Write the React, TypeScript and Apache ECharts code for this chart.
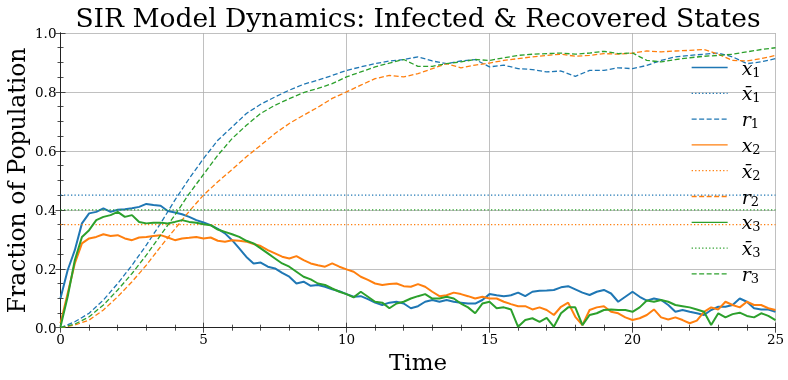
import React, { useEffect, useRef } from "react";
import * as echarts from "echarts";

// time grid for stochastic infected-fraction curves (step 0.25)
const tX = [
  0, 0.25, 0.5, 0.75, 1, 1.25, 1.5, 1.75, 2, 2.25, 2.5, 2.75, 3, 3.25, 3.5, 3.75, 4, 4.25, 4.5, 4.75,
  5, 5.25, 5.5, 5.75, 6, 6.25, 6.5, 6.75, 7, 7.25, 7.5, 7.75, 8, 8.25, 8.5, 8.75, 9, 9.25, 9.5, 9.75,
  10, 10.25, 10.5, 10.75, 11, 11.25, 11.5, 11.75, 12, 12.25, 12.5, 12.75, 13, 13.25, 13.5, 13.75,
  14, 14.25, 14.5, 14.75, 15, 15.25, 15.5, 15.75, 16, 16.25, 16.5, 16.75, 17, 17.25, 17.5, 17.75,
  18, 18.25, 18.5, 18.75, 19, 19.25, 19.5, 19.75, 20, 20.25, 20.5, 20.75, 21, 21.25, 21.5, 21.75,
  22, 22.25, 22.5, 22.75, 23, 23.25, 23.5, 23.75, 24, 24.25, 24.5, 24.75, 25,
];

const x1 = [
  0.1, 0.195, 0.263, 0.354, 0.388, 0.393, 0.405, 0.393, 0.4, 0.402, 0.405, 0.41, 0.42, 0.416, 0.414, 0.396, 0.391, 0.385, 0.376, 0.365,
  0.357, 0.348, 0.335, 0.32, 0.297, 0.269, 0.24, 0.218, 0.221, 0.207, 0.201, 0.186, 0.173, 0.15, 0.156, 0.142, 0.145, 0.139, 0.13, 0.124,
  0.114, 0.105, 0.107, 0.097, 0.085, 0.077, 0.085, 0.088, 0.082, 0.066, 0.073, 0.088, 0.094, 0.088, 0.094, 0.088,
  0.085, 0.082, 0.082, 0.094, 0.114, 0.11, 0.107, 0.11, 0.119, 0.107, 0.122, 0.125, 0.126, 0.128, 0.137, 0.141,
  0.13, 0.119, 0.111, 0.122, 0.128, 0.116, 0.088, 0.105, 0.122, 0.105, 0.092, 0.099, 0.094, 0.077, 0.054, 0.06,
  0.054, 0.049, 0.043, 0.06, 0.071, 0.071, 0.077, 0.099, 0.088, 0.066, 0.062, 0.062, 0.054,
];

const x2 = [
  0.015, 0.116, 0.218, 0.286, 0.303, 0.308, 0.317, 0.311, 0.314, 0.303, 0.297, 0.306, 0.308, 0.311, 0.314, 0.306, 0.297, 0.303, 0.305, 0.308,
  0.303, 0.306, 0.295, 0.292, 0.297, 0.295, 0.292, 0.284, 0.277, 0.263, 0.252, 0.241, 0.235, 0.243, 0.229, 0.218, 0.212, 0.207, 0.218, 0.207,
  0.198, 0.19, 0.173, 0.162, 0.15, 0.145, 0.148, 0.15, 0.141, 0.139, 0.148, 0.139, 0.122, 0.107, 0.11, 0.119,
  0.114, 0.107, 0.099, 0.105, 0.099, 0.099, 0.088, 0.08, 0.073, 0.073, 0.062, 0.069, 0.06, 0.043, 0.071, 0.085,
  0.037, 0.009, 0.06, 0.069, 0.073, 0.054, 0.049, 0.035, 0.026, 0.032, 0.043, 0.062, 0.035, 0.028, 0.035, 0.026,
  0.015, 0.024, 0.054, 0.069, 0.062, 0.088, 0.077, 0.069, 0.088, 0.077, 0.077, 0.066, 0.06,
];

const x3 = [
  0.003, 0.105, 0.229, 0.308, 0.331, 0.365, 0.376, 0.382, 0.393, 0.376, 0.382, 0.359, 0.354, 0.356, 0.356, 0.354, 0.359, 0.365, 0.359, 0.356,
  0.351, 0.348, 0.333, 0.325, 0.317, 0.308, 0.295, 0.286, 0.269, 0.252, 0.235, 0.218, 0.207, 0.19, 0.173, 0.164, 0.15, 0.145, 0.133, 0.122,
  0.114, 0.103, 0.122, 0.105, 0.088, 0.085, 0.066, 0.082, 0.088, 0.099, 0.107, 0.114, 0.099, 0.099, 0.105, 0.099,
  0.082, 0.069, 0.049, 0.082, 0.088, 0.066, 0.069, 0.062, 0.003, 0.026, 0.032, 0.02, 0.033, 0.003, 0.049, 0.069,
  0.069, 0.009, 0.043, 0.049, 0.06, 0.062, 0.06, 0.06, 0.054, 0.069, 0.092, 0.088, 0.094, 0.088, 0.077, 0.073,
  0.069, 0.062, 0.054, 0.009, 0.049, 0.035, 0.046, 0.051, 0.04, 0.035, 0.049, 0.04, 0.026,
];

// equilibrium levels
const xBar = [0.45, 0.35, 0.4];

// time grid for recovered-fraction curves (step 0.5)
const tR = [
  0, 0.5, 1, 1.5, 2, 2.5, 3, 3.5, 4, 4.5, 5, 5.5, 6, 6.5, 7, 7.5, 8, 8.5, 9, 9.5, 10, 10.5, 11, 11.5, 12,
  12.5, 13, 13.5, 14, 14.5, 15, 15.5, 16, 16.5, 17, 17.5, 18, 18.5, 19, 19.5, 20, 20.5, 21, 21.5, 22, 22.5,
  23, 23.5, 24, 24.5, 25,
];

const r1 = [
  0, 0.02, 0.049, 0.094, 0.15, 0.212, 0.28, 0.354, 0.433, 0.506, 0.574, 0.636, 0.681, 0.727, 0.758, 0.783, 0.806, 0.826, 0.84, 0.856,
  0.873, 0.885, 0.896, 0.905, 0.91, 0.919, 0.905, 0.896, 0.905, 0.91, 0.885, 0.891, 0.879, 0.876, 0.868, 0.871, 0.853, 0.873, 0.873,
  0.882, 0.879, 0.89, 0.907, 0.919, 0.924, 0.928, 0.932, 0.919, 0.896, 0.902, 0.913,
];

const r2 = [
  0, 0.009, 0.026, 0.06, 0.105, 0.156, 0.212, 0.275, 0.335, 0.395, 0.45, 0.495, 0.537, 0.58, 0.619, 0.659, 0.693, 0.721, 0.748, 0.778,
  0.8, 0.823, 0.845, 0.856, 0.851, 0.862, 0.879, 0.896, 0.882, 0.891, 0.898, 0.907, 0.913, 0.919, 0.924, 0.928, 0.921, 0.924, 0.93,
  0.928, 0.932, 0.939, 0.936, 0.939, 0.941, 0.944, 0.928, 0.907, 0.905, 0.913, 0.924,
];

const r3 = [
  0, 0.012, 0.037, 0.077, 0.128, 0.184, 0.246, 0.314, 0.382, 0.455, 0.52, 0.585, 0.642, 0.687, 0.727, 0.755, 0.777, 0.798, 0.812, 0.828,
  0.851, 0.868, 0.885, 0.898, 0.91, 0.887, 0.887, 0.896, 0.902, 0.91, 0.907, 0.916, 0.924, 0.928, 0.93, 0.932, 0.928, 0.932, 0.938,
  0.93, 0.932, 0.907, 0.902, 0.91, 0.916, 0.921, 0.924, 0.928, 0.936, 0.944, 0.95,
];

const colors = ["#1f77b4", "#ff7f0e", "#2ca02c"];
const titleText = "SIR Model Dynamics: Infected & Recovered States";
const xName = "Time";
const yName = "Fraction of Population";
const xTicks = { min: 0, max: 25, interval: 5 };
const yTicks = { min: 0, max: 1, interval: 0.2 };

const SERIF = "DejaVu Serif";

const zip = (t: number[], v: number[]) => t.map((tt, i) => [tt, v[i]]);

const legendLabels: Record<string, string> = {
  x1: "{v|x}{s|1}",
  xb1: "{v|x\u0304}{s|1}",
  r1: "{v|r}{s|1}",
  x2: "{v|x}{s|2}",
  xb2: "{v|x\u0304}{s|2}",
  r2: "{v|r}{s|2}",
  x3: "{v|x}{s|3}",
  xb3: "{v|x\u0304}{s|3}",
  r3: "{v|r}{s|3}",
};

export default function App() {
  const ref = useRef<HTMLDivElement>(null);
  useEffect(() => {
    if (!ref.current) return;
    const chart = echarts.init(ref.current, null, { renderer: "svg" });
    const xs = [x1, x2, x3];
    const rs = [r1, r2, r3];
    const series: any[] = [];
    for (let k = 0; k < 3; k++) {
      series.push({
        name: "x" + (k + 1),
        type: "line",
        data: zip(tX, xs[k]),
        showSymbol: false,
        symbol: "none",
        lineStyle: { color: colors[k], width: 2 },
        itemStyle: { color: colors[k] },
      });
      series.push({
        name: "xb" + (k + 1),
        type: "line",
        data: [
          [xTicks.min, xBar[k]],
          [xTicks.max, xBar[k]],
        ],
        showSymbol: false,
        symbol: "none",
        lineStyle: { color: colors[k], width: 1.3, type: [1.3, 2.2] },
        itemStyle: { color: colors[k] },
      });
      series.push({
        name: "r" + (k + 1),
        type: "line",
        data: zip(tR, rs[k]),
        showSymbol: false,
        symbol: "none",
        lineStyle: { color: colors[k], width: 1.3, type: [5, 2.5] },
        itemStyle: { color: colors[k] },
      });
    }
    const axisLine = { show: true, lineStyle: { color: "#222", width: 1 } };
    const tick = { show: true, inside: true, length: 5, lineStyle: { color: "#222", width: 0.8 } };
    const minor = (n: number) => ({ show: true, splitNumber: n, length: 3, lineStyle: { color: "#222", width: 0.8 } });
    chart.setOption({
      animation: false,
      grid: { left: 60.5, right: 12.5, top: 33, bottom: 52.3, containLabel: false, outerBoundsMode: "none" },
      graphic: [
        {
          type: "text",
          x: 418,
          y: 17,
          style: {
            text: titleText,
            fontFamily: SERIF,
            fontSize: 26.5,
            fill: "#000",
            textAlign: "center",
            textVerticalAlign: "middle",
          },
        },
      ],
      legend: {
        orient: "vertical",
        left: 691,
        top: 58,
        padding: 0,
        itemGap: 5.3,
        itemWidth: 36,
        itemHeight: 12,
        itemStyle: { opacity: 0, borderWidth: 0 },
        lineStyle: { width: 1.3 },
        data: Object.keys(legendLabels),
        formatter: (n: string) => legendLabels[n],
        textStyle: {
          color: "#000",
          rich: {
            v: { fontFamily: SERIF, fontStyle: "italic", fontSize: 19, lineHeight: 22, padding: [0, 0, 0, 9], verticalAlign: "middle" },
            s: { fontFamily: SERIF, fontSize: 13, lineHeight: 7, verticalAlign: "bottom" },
          },
        },
      },
      xAxis: [
        {
          type: "value",
          ...xTicks,
          name: xName,
          nameLocation: "middle",
          nameGap: 23,
          nameTextStyle: { fontFamily: SERIF, fontSize: 23, color: "#000" },
          axisLine,
          axisTick: tick,
          minorTick: minor(5),
          splitLine: { show: true, lineStyle: { color: "#b0b0b0", width: 0.8 } },
          axisLabel: { fontFamily: SERIF, fontSize: 13.5, color: "#000", margin: 4 },
        },
        {
          type: "value",
          position: "top",
          ...xTicks,
          axisLine,
          axisTick: tick,
          minorTick: minor(5),
          splitLine: { show: false },
          axisLabel: { show: false },
        },
      ],
      yAxis: [
        {
          type: "value",
          ...yTicks,
          name: yName,
          nameLocation: "middle",
          nameGap: 32,
          nameMoveOverlap: false,
          nameTextStyle: { fontFamily: SERIF, fontSize: 23.5, color: "#000" },
          axisLine,
          axisTick: tick,
          minorTick: minor(4),
          splitLine: { show: true, lineStyle: { color: "#b0b0b0", width: 0.8 } },
          axisLabel: { fontFamily: SERIF, fontSize: 13.5, color: "#000", margin: 4, formatter: (v: number) => v.toFixed(1) },
        },
        {
          type: "value",
          position: "right",
          ...yTicks,
          axisLine,
          axisTick: tick,
          minorTick: minor(4),
          splitLine: { show: false },
          axisLabel: { show: false },
        },
      ],
      series,
    });
    return () => chart.dispose();
  }, []);
  return <div ref={ref} style={{ position: "fixed", left: 0, top: 0, width: 788, height: 380 }} />;
}
